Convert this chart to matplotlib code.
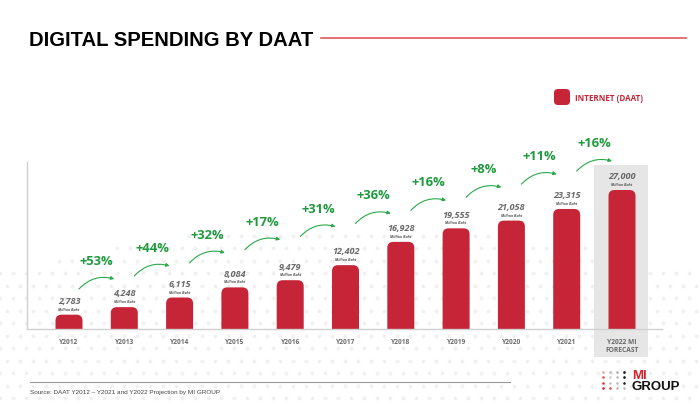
import numpy as np
import matplotlib
matplotlib.use('Agg')
import matplotlib.pyplot as plt
from matplotlib.patches import FancyBboxPatch, Rectangle

YEARS = ['Y2012', 'Y2013', 'Y2014', 'Y2015', 'Y2016', 'Y2017',
         'Y2018', 'Y2019', 'Y2020', 'Y2021', 'Y2022 MI\nFORECAST']
SPENDING = [2783, 4248, 6115, 8084, 9479, 12402, 16928, 19555, 21058, 23315, 27000]
GROWTH = ['+53%', '+44%', '+32%', '+17%', '+31%', '+36%', '+16%', '+8%', '+11%', '+16%']

RED = '#C62537'
GREEN = '#1F9B3E'
GREY_TXT = '#6A6A6A'
LABEL_FONT = ['Open Sans', 'DejaVu Sans']
ARIAL = ['Liberation Sans', 'DejaVu Sans']

W, H = 700, 410
PX_Y = 27000 / 139          # data units per pixel (vertical)
PX_X = 1 / 55.3             # data units per pixel (horizontal)

fig = plt.figure(figsize=(7, 4.1), dpi=100)
fig.patch.set_facecolor('white')

# background layer in pixel coords
bg = fig.add_axes([0, 0, 1, 1], zorder=0)
bg.set_xlim(0, W)
bg.set_ylim(H, 0)
bg.axis('off')

# faint halftone dots in the lower part
xs, ys = [], []
for r, yy in enumerate(np.arange(224, H + 6, 12.5)):
    off = 6.5 if r % 2 else 0
    for xx in np.arange(off, W + 6, 13):
        edge = 272 - 48 * np.sin(np.pi * xx / W)
        if yy > edge:
            xs.append(xx)
            ys.append(yy)
bg.scatter(xs, ys, s=8, color='#F0F0F0', linewidths=0)

# title and rule
bg.text(29, 40.5, 'DIGITAL SPENDING BY DAAT', fontsize=14.6, fontweight='bold',
        family=ARIAL, va='center', ha='left', color='black')
bg.plot([321, 686], [38.5, 38.5], color='#E05858', lw=1.2)

# legend
bg.add_patch(FancyBboxPatch((554, 90), 16, 16, boxstyle='round,pad=0,rounding_size=4',
                            fc=RED, ec='none'))
bg.text(575, 98.5, 'INTERNET (DAAT)', fontsize=5.8, fontweight='bold', color=RED,
        family=LABEL_FONT, va='center', ha='left')

# footer
bg.plot([30, 510], [382.7, 382.7], color='#9A9A9A', lw=0.8)
bg.text(30, 393, 'Source: DAAT Y2012 \u2013 Y2021 and Y2022 Projection by MI GROUP',
        fontsize=4.6, family=ARIAL, color='#444444', va='center', ha='left')

# logo
dot_cols = [['#E8A0A0', '#E05050', '#D83030', '#D02020'],
            ['#BBBBBB', '#CCCCCC', '#C0C0C0', '#E05050'],
            ['#AAAAAA', '#BBBBBB', '#BBBBBB', '#BBBBBB'],
            ['#111111', '#111111', '#222222', '#BBBBBB']]
for c in range(4):
    for r in range(4):
        bg.scatter(603 + 7 * c, 372.5 + 5.6 * r, s=3.5, color=dot_cols[c][r], linewidths=0)
bg.text(632, 376.5, 'MI', fontsize=9.5, fontweight='bold', color='#D8202A',
        family=ARIAL, va='center', ha='left')
bg.text(632, 387.5, 'GROUP', fontsize=9.5, fontweight='bold', color='#111111',
        family=ARIAL, va='center', ha='left')

# main chart
ax = fig.add_axes([27 / W, 80 / H, 635 / W, 270 / H], zorder=1)
ax.patch.set_alpha(0)
ax.set_xlim((27 - 69) * PX_X, (662 - 69) * PX_X)
ax.set_ylim(0, 270 * PX_Y)

for side in ['top', 'right']:
    ax.spines[side].set_visible(False)
for side in ['left', 'bottom']:
    ax.spines[side].set_color('#D0D0D0')
    ax.spines[side].set_linewidth(1)
ax.spines['left'].set_bounds(0, 167 * PX_Y)
ax.set_yticks([])

x = np.arange(len(YEARS))
ax.set_xticks(x)
ax.set_xticklabels(YEARS, fontsize=4.8, fontweight='bold', color=GREY_TXT,
                   family=LABEL_FONT, linespacing=1.2)
ax.tick_params(axis='x', length=0, pad=6.5)

# forecast highlight
last = x[-1]
ax.add_patch(Rectangle((last - 0.51, -28 * PX_Y), 0.98, 192 * PX_Y,
                       fc='#E6E6E6', ec='none', clip_on=False, zorder=0))

bar_w = 27 * PX_X
for xi, v in zip(x, SPENDING):
    ax.add_patch(FancyBboxPatch((xi - bar_w / 2, -20 * PX_Y), bar_w, v + 20 * PX_Y,
                                boxstyle='round,pad=0,rounding_size=%f' % (6 * PX_X),
                                mutation_aspect=PX_Y / PX_X, fc=RED, ec='none', zorder=2))
    ax.annotate(f'{v:,}', (xi, v), xytext=(0, 10.2), textcoords='offset points',
                ha='center', va='center', fontsize=6.6, fontweight='bold', style='italic',
                color=GREY_TXT, family=LABEL_FONT)
    ax.annotate('Million Baht', (xi, v), xytext=(0, 4.3), textcoords='offset points',
                ha='center', va='center', fontsize=2.6, fontweight='bold', style='italic',
                color='#555555', family=LABEL_FONT)

# growth arrows and labels, laid along a diagonal
for i, g in enumerate(GROWTH):
    y0 = (40 + 13.1 * i) * PX_Y
    y1 = (50 + 13.1 * i) * PX_Y
    ax.annotate('', xy=(i + 1 - 10 * PX_X, y1), xytext=(i + 10 * PX_X, y0),
                arrowprops=dict(arrowstyle='-|>', color='#2AA84A', lw=0.8,
                                connectionstyle='arc3,rad=-0.3', mutation_scale=5,
                                shrinkA=0, shrinkB=0))
    ax.text(i + 0.5, (68 + 13.2 * i) * PX_Y, g, fontsize=9.4, fontweight='bold',
            color=GREEN, family=LABEL_FONT, ha='center', va='center')

fig.savefig('out.png', dpi=100)
